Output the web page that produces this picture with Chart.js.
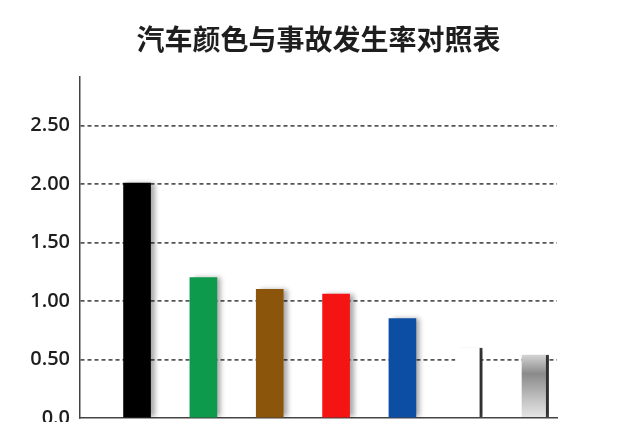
<!DOCTYPE html>
<html>
<head>
    <meta charset="utf-8">
    <title>汽车颜色与事故发生率对照表</title>
    <style>
        body { margin: 0; background: #fff; overflow: hidden; }
        #wrap { position: relative; width: 639px; height: 440px; }
    </style>
</head>
<body>
    <div id="wrap"><canvas id="barChart"></canvas></div>

    <script src="https://cdn.jsdelivr.net/npm/chart.js"></script>
    <script>
        const categories = ['黑色', '绿色', '棕色', '红色', '蓝色', '白色', '银色'];
        const accidentRates = [2.01, 1.20, 1.10, 1.06, 0.85, 0.60, 0.54];
        const tickValues = [0, 0.5, 1, 1.5, 2, 2.5];
        const tickLabels = ['0.0', '0.50', '1.00', '1.50', '2.00', '2.50'];
        const barColors = ['#000000', '#0e9a4c', '#8b560b', '#f41414', '#0c4ea3', '#ffffff', null];

        // silver bar: grey gradient, built once the scale exists
        const silverFill = (chart, value) => {
            const y = chart.scales.y;
            if (!y) return '#bbbbbb';
            const g = chart.ctx.createLinearGradient(0, y.getPixelForValue(value), 0, y.getPixelForValue(0));
            g.addColorStop(0, '#d4d4d4');
            g.addColorStop(0.3, '#8a8a8a');
            g.addColorStop(0.7, '#c2c2c2');
            g.addColorStop(1, '#e6e6e6');
            return g;
        };

        // soft shadow on the right of every bar
        const barShadow = {
            id: 'barShadow',
            beforeDatasetsDraw(chart) {
                const ctx = chart.ctx;
                ctx.save();
                ctx.shadowColor = 'rgba(0, 0, 0, 0.35)';
                ctx.shadowOffsetX = 4;
                ctx.shadowOffsetY = 0;
                ctx.shadowBlur = 5;
            },
            afterDatasetsDraw(chart) {
                chart.ctx.restore();
            }
        };

        const canvas = document.getElementById('barChart');
        const chart = new Chart(canvas, {
            type: 'bar',
            data: {
                labels: categories,
                datasets: [{
                    label: '事故发生率',
                    data: categories.map((_, i) => ({ x: i, y: accidentRates[i] })),
                    backgroundColor: (c) => barColors[c.dataIndex] || silverFill(c.chart, accidentRates[c.dataIndex]),
                    borderColor: '#444',
                    borderWidth: (c) => c.dataIndex >= 5 ? { top: 0, left: 0, bottom: 0, right: 3 } : 0,
                    borderSkipped: false,
                    barThickness: 27,
                }],
            },
            options: {
                responsive: true,
                maintainAspectRatio: false,
                animation: false,
                layout: { padding: { left: 0, right: 82, top: 0, bottom: 0 } },
                scales: {
                    x: {
                        type: 'linear',
                        min: -0.86,
                        max: 6.33,
                        offset: false,
                        grid: { display: false },
                        ticks: { display: false },
                        border: { display: true, color: '#444', width: 1.5 },
                    },
                    y: {
                        min: 0,
                        max: 2.92,
                        afterBuildTicks: (scale) => { scale.ticks = tickValues.map(v => ({ value: v })); },
                        afterFit: (scale) => { scale.width = 80; },
                        ticks: {
                            padding: 10,
                            color: '#1e1e1e',
                            font: { family: '"Open Sans", "Noto Sans", sans-serif', size: 20, weight: '600' },
                            callback: (value) => tickLabels[tickValues.indexOf(value)],
                        },
                        grid: {
                            drawTicks: false,
                            lineWidth: 1.8,
                            color: (c) => c.tick && c.tick.value === 0 ? 'rgba(0,0,0,0)' : '#555',
                        },
                        border: { display: true, color: '#444', width: 1.5, dash: [4, 3] },
                    },
                },
                plugins: {
                    legend: { display: false },
                    tooltip: { enabled: false },
                    title: {
                        display: true,
                        fullSize: false,
                        text: '汽车颜色与事故发生率对照表',
                        color: '#1e1e1e',
                        font: { family: '"Noto Sans CJK SC", sans-serif', size: 28, weight: 'bold' },
                        padding: { top: 23, bottom: 20 },
                    },
                },
            },
            plugins: [barShadow],
        });
    </script>
</body>
</html>
